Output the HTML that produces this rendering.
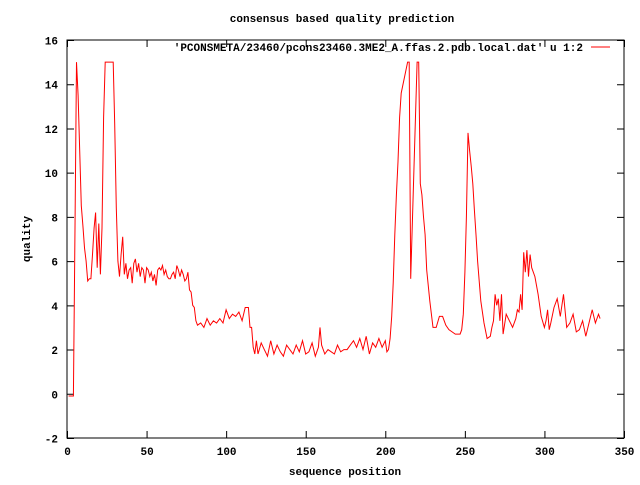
<!DOCTYPE html>
<html><head><meta charset="utf-8"><style>
body{margin:0;background:#fff}
svg text{font-family:"Liberation Mono","DejaVu Sans Mono",monospace;font-size:11px;font-weight:bold;fill:#000}
</style></head><body>
<svg id="chart" width="640" height="480" viewBox="0 0 640 480" xmlns="http://www.w3.org/2000/svg">
<rect width="640" height="480" fill="#fff"/>
<text x="342" y="22" text-anchor="middle">consensus based quality prediction</text>
<text x="345" y="475" text-anchor="middle">sequence position</text>
<text x="30" y="239" text-anchor="middle" transform="rotate(-90 30 239)">quality</text>
<g id="axes"></g>
<text x="583" y="51" text-anchor="end">'PCONSMETA/23460/pcons23460.3ME2_A.ffas.2.pdb.local.dat' u 1:2</text>
<line x1="591" y1="47" x2="610" y2="47" stroke="#f00" stroke-width="1"/>
<g id="series"></g>
</svg>
<script>
const xTicks=[0,50,100,150,200,250,300,350];
const yTicks=[-2,0,2,4,6,8,10,12,14,16];
const xs=[1,4,5,6,7,8,9,10,11,12,13,14,15,16,17,18,19,20,21,22,23,24,29,30,31,32,33,34,35,36,37,38,39,40,41,42,43,44,45,46,47,48,49,50,51,52,53,54,55,56,57,58,59,60,61,62,63,64,65,66,67,68,69,70,71,72,73,74,75,76,77,78,79,80,81,82,84,86,88,90,92,94,96,98,100,102,104,106,108,110,112,114,115,116,117,118,119,120,122,124,126,128,130,132,134,136,138,140,142,144,146,148,150,152,154,156,158,159,160,162,164,166,168,170,172,174,176,178,180,182,184,186,188,190,192,194,196,198,200,201,202,203,204,205,206,207,208,209,210,214,215,216,220,221,222,223,224,225,226,228,230,232,234,236,238,240,242,244,246,247,248,249,250,251,252,253,254,255,256,257,258,260,262,264,266,267,268,269,270,271,272,273,274,276,278,280,282,283,284,285,286,287,288,289,290,291,292,294,296,298,300,301,302,303,304,306,308,310,312,314,316,318,320,322,324,326,328,330,332,334,335];
const ys=[-0.1,-0.1,7.5,15,13.5,11,8.5,7.6,6.6,6,5.1,5.2,5.2,6.3,7.5,8.2,5.7,7.7,5.4,7.5,12.5,15,15,12.2,8.4,6,5.3,6.3,7.1,5.4,5.9,5.2,5.6,5.7,5,5.9,6.1,5.5,5.9,5.3,5.7,5.6,5,5.7,5.6,5.3,5.5,5.1,5.4,4.9,5.6,5.7,5.6,5.8,5.4,5.6,5.3,5.2,5.2,5.4,5.5,5.2,5.8,5.6,5.3,5.6,5.4,5.1,5.2,5.5,4.7,4.6,4,3.9,3.3,3.1,3.2,3,3.4,3.1,3.3,3.2,3.4,3.2,3.8,3.4,3.6,3.5,3.7,3.3,3.9,3.9,3,3,2.1,1.8,2.4,1.8,2.3,2,1.7,2.4,1.8,2.2,1.9,1.7,2.2,2,1.8,2.2,1.9,2.4,1.8,1.9,2.3,1.7,2.1,3,2.2,1.8,2,1.9,1.8,2.2,1.9,2,2,2.2,2.4,2.1,2.5,2,2.6,1.8,2.3,2.1,2.5,2.1,2.4,1.9,2,2.5,3.5,5,7.2,9,10.5,12.5,13.6,15,15,5.2,15,15,9.5,9,8,7.2,5.6,4.2,3,3,3.5,3.5,3.1,2.9,2.8,2.7,2.7,2.7,2.9,3.6,5.5,8,11.8,11,10.3,9.5,8.3,7.2,6,4.2,3.2,2.5,2.6,3,3.3,4.5,4,4.3,3.3,4.5,2.7,3.6,3.3,3,3.4,3.8,3.7,4.5,3.8,6.4,5.5,6.5,5.3,6.3,5.7,5.3,4.5,3.5,3,3.3,3.8,2.9,3.2,3.9,4.3,3.5,4.5,3,3.2,3.6,2.8,2.9,3.3,2.6,3.2,3.8,3.2,3.6,3.4,2.8,2.5,2.9,3.3,3.8,5.1];
const X0=67,X1=624,Y0=438,Y1=40,xmin=0,xmax=350,ymin=-2,ymax=16;
const sx=v=>X0+(v-xmin)/(xmax-xmin)*(X1-X0);
const sy=v=>Y0-(v-ymin)/(ymax-ymin)*(Y0-Y1);
const NS="http://www.w3.org/2000/svg";
const ax=document.getElementById('axes');
function mk(t,a,p){const e=document.createElementNS(NS,t);for(const k in a)e.setAttribute(k,a[k]);p.appendChild(e);return e;}
const fr=mk('rect',{x:X0,y:Y1,width:X1-X0,height:Y0-Y1,fill:'none',stroke:'#000','stroke-width':1},ax);


yTicks.forEach(v=>{
 const y=sy(v)+0.5;
 const l=mk('path',{d:`M${X0} ${y}h7M${X1} ${y}h-7`,stroke:'#000'},ax);
 
 
 const t=mk('text',{x:X0-9,y:y+4,'text-anchor':'end'},ax);t.textContent=v;
 
 
});
xTicks.forEach(v=>{
 const x=sx(v)+0.5;
 const l=mk('path',{d:`M${x} ${Y0}v-7M${x} ${Y1}v7`,stroke:'#000'},ax);
 
 
 const t=mk('text',{x:x,y:Y0+17,'text-anchor':'middle'},ax);t.textContent=v;
 
 
});
const pts=xs.map((x,i)=>sx(x).toFixed(1)+','+sy(ys[i]).toFixed(1)).join(' ');
const pl=mk('polyline',{points:pts,fill:'none',stroke:'#f00','stroke-width':1},document.getElementById('series'));


</script>
</body></html>
